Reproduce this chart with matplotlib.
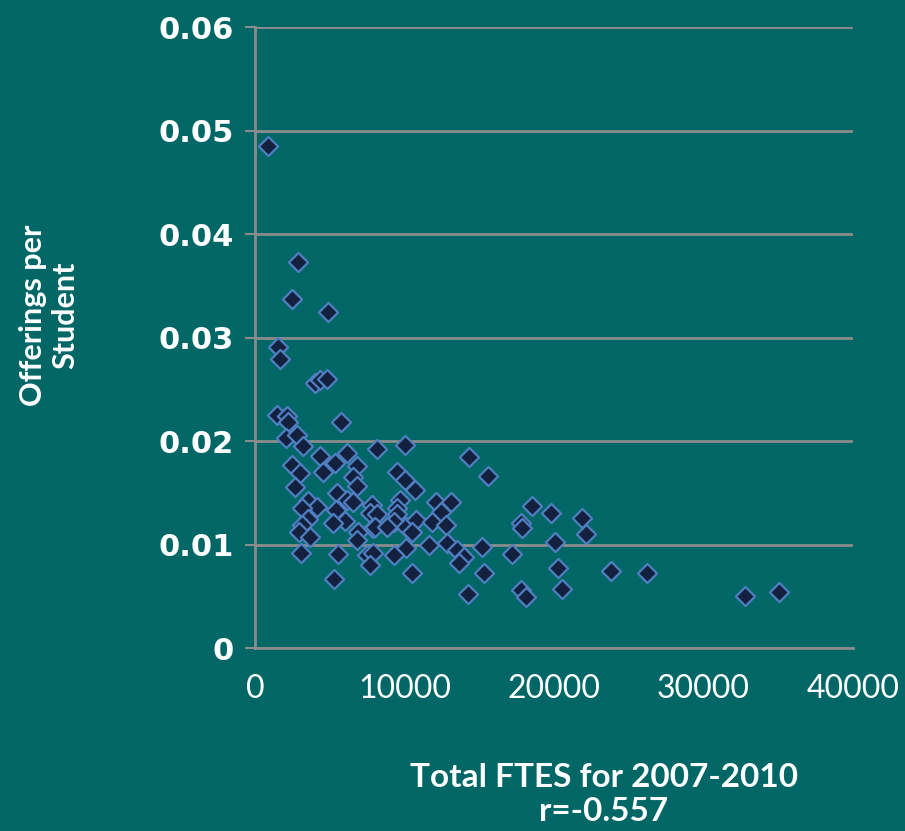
import matplotlib
matplotlib.use("Agg")
import matplotlib.pyplot as plt

# Total FTES 2007-2010 (x) and offerings per student (y)
ftes = [870, 2870, 2470, 4870, 1530, 1670, 4000, 4330, 4800, 1470,
        2130, 2200, 5730, 2070, 2800, 3200, 4330, 6130, 8130, 10000,
        2470, 3000, 5330, 6800, 9530, 4530, 6530, 6800, 2670, 10000,
        10670, 14330, 15600, 3530, 4130, 3130, 5470, 6130, 6530, 5400,
        6000, 5200, 3530, 3130, 2930, 3670, 7800, 7670, 6870, 6800,
        7870, 3070, 5530, 7470, 7870, 7670, 9670, 9530, 9470, 9330,
        8130, 8000, 8800, 10130, 10800, 10530, 12130, 13130, 12470, 11870,
        12800, 11670, 12870, 13530, 14000, 10130, 9330, 13670, 15200, 18530,
        19800, 21870, 22130, 17800, 17870, 20070, 17200, 15330, 20270, 23800,
        26200, 14270, 17800, 18130, 20530, 32800, 35070, 5270, 10470]
offerings = [0.0485, 0.0373, 0.0337, 0.0325, 0.0291, 0.0279, 0.0256, 0.0259, 0.0260, 0.0225,
             0.0224, 0.0218, 0.0218, 0.0203, 0.0206, 0.0195, 0.0186, 0.0188, 0.0192, 0.0196,
             0.0177, 0.0169, 0.0179, 0.0176, 0.0170, 0.0170, 0.0165, 0.0157, 0.0156, 0.0162,
             0.0153, 0.0185, 0.0166, 0.0142, 0.0136, 0.0135, 0.0150, 0.0143, 0.0141, 0.0133,
             0.0123, 0.0121, 0.0125, 0.0119, 0.0112, 0.0107, 0.0138, 0.0130, 0.0112, 0.0104,
             0.0116, 0.0092, 0.0091, 0.0090, 0.0092, 0.0080, 0.0143, 0.0135, 0.0129, 0.0122,
             0.0129, 0.0117, 0.0117, 0.0117, 0.0124, 0.0112, 0.0141, 0.0141, 0.0131, 0.0122,
             0.0119, 0.0100, 0.0101, 0.0095, 0.0088, 0.0097, 0.0090, 0.0082, 0.0098, 0.0137,
             0.0130, 0.0126, 0.0110, 0.0121, 0.0116, 0.0102, 0.0091, 0.0072, 0.0077, 0.0074,
             0.0072, 0.0052, 0.0056, 0.0049, 0.0057, 0.0050, 0.0054, 0.0067, 0.0072]

x_ticks = [0, 10000, 20000, 30000, 40000]
y_ticks = [0, 0.01, 0.02, 0.03, 0.04, 0.05, 0.06]
y_ticklabels = ["0", "0.01", "0.02", "0.03", "0.04", "0.05", "0.06"]

BG = "#006666"
GRID = "#8c8c8c"

fig = plt.figure(figsize=(9.05, 8.31), dpi=100, facecolor=BG)
ax = fig.add_axes([0.2818, 0.2202, 0.6607, 0.7473], facecolor=BG)

ax.scatter(ftes, offerings, marker="D", s=95, facecolor="#13213f",
           edgecolor="#4f7fc0", linewidths=1.6, zorder=3)

ax.set_xlim(0, 40000)
ax.set_ylim(0, 0.06)
ax.set_xticks(x_ticks)
ax.set_xticklabels([str(v) for v in x_ticks], fontfamily="Lato", fontsize=23, color="white")
ax.set_yticks(y_ticks)
ax.set_yticklabels(y_ticklabels, fontfamily="DejaVu Sans", fontweight="bold", fontsize=22, color="white")

ax.yaxis.grid(True, color=GRID, linewidth=2, zorder=0)
ax.set_axisbelow(True)
for s in ["top", "right"]:
    ax.spines[s].set_visible(False)
ax.spines["left"].set_color(GRID)
ax.spines["left"].set_linewidth(2)
ax.spines["bottom"].set_color(GRID)
ax.spines["bottom"].set_linewidth(2)
ax.tick_params(axis="y", length=7, width=1.5, color=GRID, pad=8)
ax.tick_params(axis="x", length=0, pad=19)

fig.text(0.054, 0.62, "Offerings per\nStudent", rotation=90, ha="center", va="center",
         fontfamily="Lato", fontweight="bold", fontsize=22, color="white", linespacing=1.2)
fig.text(0.667, 0.044, "Total FTES for 2007-2010\nr=-0.557", ha="center", va="center",
         fontfamily="Lato", fontweight="bold", fontsize=24, color="white", linespacing=1.2)

fig.savefig("out.png", dpi=100, facecolor=BG)
